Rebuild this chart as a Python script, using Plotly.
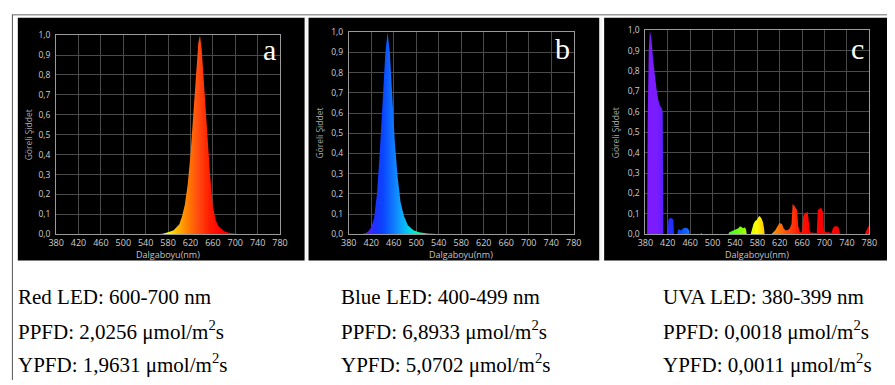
import plotly.graph_objects as go

W, H = 895, 385

# ---------------- data ----------------
red_wl = [560, 570, 580, 590, 600, 605, 610, 615, 620, 625, 630, 634, 637, 640, 645,
          650, 655, 660, 665, 670, 680, 690, 700, 710]
red_val = [0.0, 0.003, 0.01, 0.02, 0.05, 0.09, 0.15, 0.25, 0.4, 0.58, 0.8, 0.96, 1.0, 0.93, 0.72,
           0.5, 0.3, 0.14, 0.07, 0.04, 0.015, 0.006, 0.002, 0.0]

blue_wl = [400, 410, 415, 420, 425, 430, 435, 440, 445, 449, 453, 457, 462, 467, 472,
           478, 485, 495, 505, 520, 545]
blue_val = [0.0, 0.005, 0.015, 0.035, 0.08, 0.2, 0.4, 0.65, 0.9, 1.0, 0.9, 0.7, 0.45, 0.28, 0.16,
            0.09, 0.045, 0.02, 0.01, 0.004, 0.0]

uva_wl = [380, 383, 384, 386, 388, 391, 394, 397, 400, 403, 406, 409, 411, 412,
          420, 421, 424, 428, 430, 431,
          437, 438, 441, 444, 447, 451, 455, 458, 459,
          478, 480, 482,
          528, 530, 534, 538, 542, 546, 549, 552, 555, 558, 560, 561,
          568, 570, 573, 576, 579, 582, 584, 587, 590, 592, 593,
          605, 608, 612, 616, 620, 624, 627, 630, 634, 638, 641, 643, 646, 649, 651, 653, 656,
          660, 662, 664, 667, 670, 672, 674, 686, 688, 691, 694, 697, 699,
          702, 708, 712, 715, 718, 722, 725, 727, 730,
          772, 775, 778, 780]
uva_val = [0.0, 0.0, 0.55, 0.9, 1.0, 0.95, 0.85, 0.77, 0.71, 0.66, 0.63, 0.62, 0.6, 0.0,
           0.0, 0.07, 0.08, 0.078, 0.07, 0.0,
           0.0, 0.02, 0.025, 0.018, 0.028, 0.032, 0.03, 0.02, 0.0,
           0.0, 0.006, 0.0,
           0.0, 0.01, 0.015, 0.02, 0.022, 0.03, 0.04, 0.035, 0.03, 0.035, 0.02, 0.0,
           0.0, 0.02, 0.05, 0.065, 0.07, 0.085, 0.09, 0.08, 0.06, 0.03, 0.0,
           0.0, 0.01, 0.02, 0.04, 0.055, 0.05, 0.03, 0.02, 0.02, 0.03, 0.05, 0.15, 0.14, 0.13, 0.12, 0.04, 0.01,
           0.01, 0.09, 0.1, 0.105, 0.11, 0.06, 0.01, 0.005, 0.12, 0.125, 0.13, 0.11, 0.02,
           0.01, 0.01, 0.005, 0.03, 0.04, 0.04, 0.035, 0.005, 0.0,
           0.0, 0.02, 0.035, 0.045]

x_ticks = [380, 420, 460, 500, 540, 580, 620, 660, 700, 740, 780]
y_ticks = [0.0, 0.1, 0.2, 0.3, 0.4, 0.5, 0.6, 0.7, 0.8, 0.9, 1.0]
y_tick_labels = ["0,0", "0,1", "0,2", "0,3", "0,4", "0,5", "0,6", "0,7", "0,8", "0,9", "1,0"]
panel_letters = ["a", "b", "c"]
x_title = "Dalgaboyu(nm)"
y_title = "Göreli Şiddet"

col1 = ["Red LED: 600-700 nm", "PPFD: 2,0256 μmol/m<sup>2</sup>s", "YPFD: 1,9631 μmol/m<sup>2</sup>s"]
col2 = ["Blue LED: 400-499 nm", "PPFD: 6,8933 μmol/m<sup>2</sup>s", "YPFD: 5,0702 μmol/m<sup>2</sup>s"]
col3 = ["UVA LED: 380-399 nm", "PPFD: 0,0018 μmol/m<sup>2</sup>s", "YPFD: 0,0011 μmol/m<sup>2</sup>s"]

# ---------------- styling ----------------
spectrum = [
    [0.0, "#7a1cff"], [(400 - 380) / 400, "#7a1cff"], [(415 - 380) / 400, "#5020ff"],
    [(425 - 380) / 400, "#2030ff"], [(440 - 380) / 400, "#0a45ff"], [(455 - 380) / 400, "#1070ff"],
    [(470 - 380) / 400, "#10a0ff"], [(490 - 380) / 400, "#00e0e0"], [(505 - 380) / 400, "#00ff80"],
    [(530 - 380) / 400, "#40ff20"], [(555 - 380) / 400, "#a0ff00"], [(575 - 380) / 400, "#ffff00"],
    [(590 - 380) / 400, "#ffc000"], [(610 - 380) / 400, "#ff8000"], [(630 - 380) / 400, "#ff4a10"],
    [(650 - 380) / 400, "#ff1a00"], [(670 - 380) / 400, "#ff0000"], [1.0, "#ff0000"],
]

def px(x):
    return x / W

def py(y):
    return 1 - y / H

# plot areas in pixels (left, right, top, bottom)
areas = [(49, 277, 30, 235), (347, 576, 27, 235), (649, 877, 25, 235)]
panels = [(10, 302, 12, 262), (306, 602, 12, 262), (607, 895, 12, 262)]
letter_pos = [(266, 45), (565, 44), (865, 44)]

fig = go.Figure()
series = [(red_wl, red_val), (blue_wl, blue_val), (uva_wl, uva_val)]
shapes = []
annotations = []

for i, ((wl, val), (l, r, t, b)) in enumerate(zip(series, areas)):
    n = "" if i == 0 else str(i + 1)
    fig.add_trace(go.Scatter(
        x=wl, y=val, mode="lines", line=dict(width=0), fill="tozeroy",
        fillgradient=dict(type="horizontal", colorscale=spectrum, start=380, stop=780),
        xaxis="x" + n, yaxis="y" + n, showlegend=False, hoverinfo="skip"))
    fig.layout["xaxis" + n] = dict(
        domain=[px(l), px(r)], range=[380, 780], anchor="y" + n,
        tickvals=x_ticks, ticktext=[str(v) for v in x_ticks],
        tickfont=dict(family="Open Sans", size=9, color="#cfcfcf"),
        showgrid=True, gridcolor="#4a4a4a", gridwidth=1,
        showline=True, linecolor="#9a9a9a", linewidth=1, mirror=True,
        zeroline=False, ticks="", ticklen=0, fixedrange=True)
    fig.layout["yaxis" + n] = dict(
        domain=[py(b), py(t)], range=[0, 1.0], anchor="x" + n,
        tickvals=y_ticks, ticktext=y_tick_labels,
        tickfont=dict(family="Open Sans", size=8.5, color="#cfcfcf"),
        ticklabelstandoff=3,
        showgrid=True, gridcolor="#4a4a4a", gridwidth=1,
        showline=True, linecolor="#9a9a9a", linewidth=1, mirror=True,
        zeroline=False, ticks="", ticklen=0, fixedrange=True)
    annotations.append(dict(
        x=px((l + r) / 2), y=py(256), xref="paper", yref="paper", text=x_title,
        showarrow=False, font=dict(family="Open Sans", size=9, color="#c4c4c4"),
        xanchor="center", yanchor="middle"))
    annotations.append(dict(
        x=px(panels[i][0] + 11), y=py((t + b) / 2), xref="paper", yref="paper", text=y_title,
        showarrow=False, textangle=-90, font=dict(family="Open Sans", size=8.5, color="#a8a8a8"),
        xanchor="center", yanchor="middle"))
    lx, ly = letter_pos[i]
    annotations.append(dict(
        x=px(lx), y=py(ly), xref="paper", yref="paper", text=panel_letters[i],
        showarrow=False, font=dict(family="Liberation Serif", size=30, color="white"),
        xanchor="center", yanchor="middle"))

for (l, r, t, b) in panels:
    shapes.append(dict(type="rect", xref="paper", yref="paper", layer="below",
                       x0=px(l), x1=px(r), y0=py(b), y1=py(t),
                       fillcolor="black", line=dict(width=0)))

# frame lines
shapes.append(dict(type="line", xref="paper", yref="paper", x0=px(4), x1=1, y0=py(9), y1=py(9),
                   line=dict(color="#9a9a9a", width=1.5)))
shapes.append(dict(type="line", xref="paper", yref="paper", x0=px(4.5), x1=px(4.5), y0=py(9), y1=0,
                   line=dict(color="#555555", width=1)))
for xs in (304, 604):
    shapes.append(dict(type="line", xref="paper", yref="paper", x0=px(xs), x1=px(xs),
                       y0=py(262), y1=py(12), line=dict(color="#f4f4f4", width=2)))

# text table
rows_y = [300, 334, 368]
for cx, col in zip([8, 337, 665], [col1, col2, col3]):
    for ry, txt in zip(rows_y, col):
        annotations.append(dict(
            x=px(cx), y=py(ry), xref="paper", yref="paper", text=txt, showarrow=False,
            font=dict(family="Liberation Serif", size=21, color="black"),
            xanchor="left", yanchor="middle"))

fig.update_layout(
    width=W, height=H, margin=dict(l=0, r=0, t=0, b=0),
    paper_bgcolor="white", plot_bgcolor="black",
    shapes=shapes, annotations=annotations, showlegend=False)

fig.write_html("out.html", config={"displayModeBar": False},
               post_script="document.body.style.margin='0';document.body.style.overflow='hidden';")
